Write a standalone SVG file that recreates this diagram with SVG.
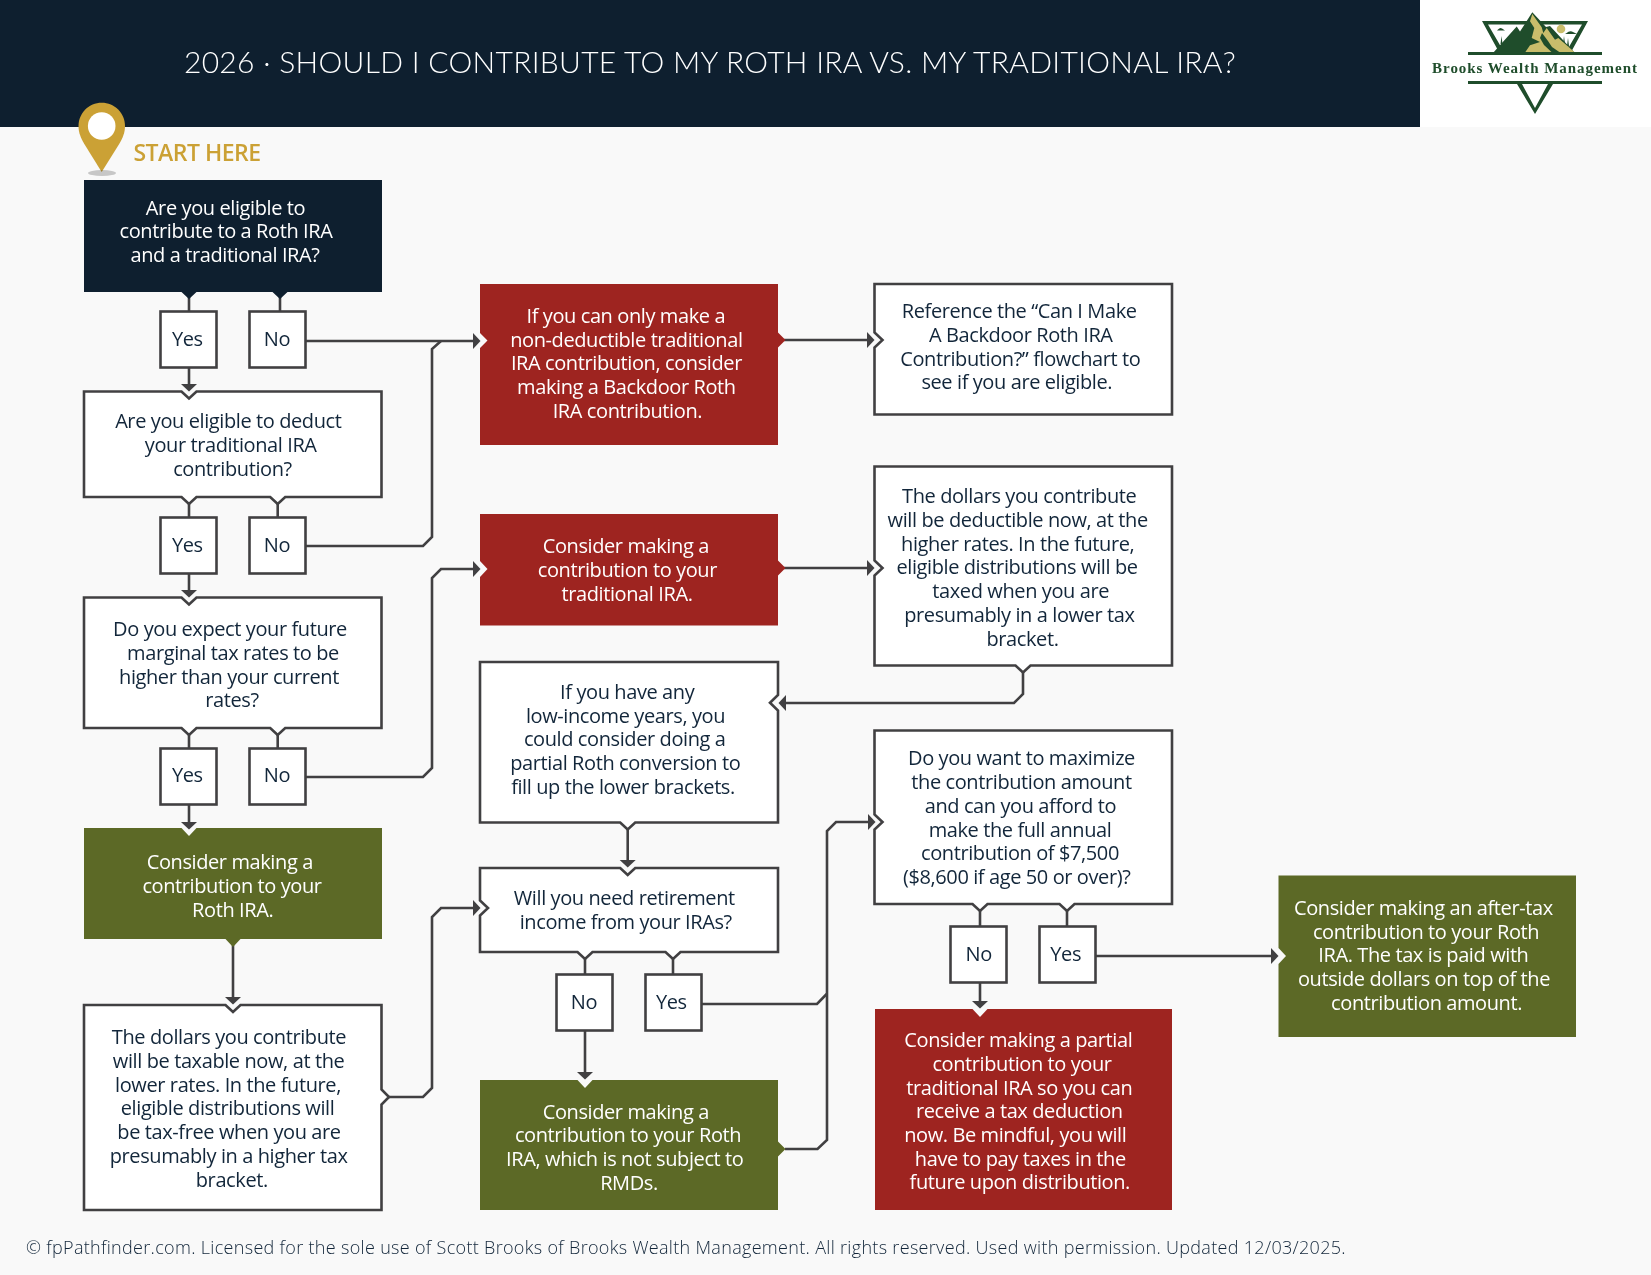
<svg xmlns="http://www.w3.org/2000/svg" width="1651" height="1275" viewBox="0 0 1651 1275">
<style>
text{font-family:"Open Sans","Noto Sans",sans-serif;font-size:20px;text-anchor:middle;fill:#12263a;letter-spacing:-0.4px}
.w{fill:#fff}
.ln{fill:#fff;stroke:#414042;stroke-width:2.6}
.nv{fill:#0e1f2f}.rd{fill:#9e2420}.gr{fill:#5c6926}
.c{fill:none;stroke:#414042;stroke-width:2.6}
.a{marker-end:url(#h)}
.lg{fill:#1f4d2b}
</style>
<defs><marker id="h" markerUnits="userSpaceOnUse" markerWidth="9" markerHeight="18" refX="0" refY="8" orient="auto" viewBox="0 0 9 16"><path d="M0 0L7.500 8L0 16Z" fill="#414042"/></marker></defs>
<rect width="1651" height="1275" fill="#f9f9f9"/>
<g id="header"><rect width="1420" height="127" fill="#0e1f2f"/><rect x="1420" width="231" height="127" fill="#fff"/>
<text x="710" y="73" style="font-family:Lato,sans-serif;font-weight:300;font-size:30px;fill:#fff;letter-spacing:0.3px">2026 · SHOULD I CONTRIBUTE TO MY ROTH IRA VS. MY TRADITIONAL IRA?</text></g>
<g id="logo">
<path class="lg" fill-rule="evenodd" d="M1482 21H1588L1570 54H1500ZM1488 24.500L1504 52H1566L1582 24.500Z"/>
<path d="M1498 29.500Q1500 27 1502 28.500L1505 30.500H1497ZM1566 33.500Q1570 30 1573 32L1577 34H1565ZM1500.500 44L1501.500 36L1502.500 44ZM1563 44L1564 36L1565 44ZM1567 46L1568 38L1569 46Z" class="lg"/>
<path class="lg" d="M1493 53L1516.700 26.500L1520 31.500L1532.300 12.300L1546 27L1550 26L1575 53Z"/>
<path d="M1532.300 14L1541.700 27.300L1543.300 33L1546.700 28L1555 39.700L1558.300 38L1575 52.500L1525 52.500L1530 45.300L1540 42L1531.700 38L1534.300 28L1530 21.300Z" fill="#c9bd6b"/>
<path class="lg" d="M1542 33L1548 41L1552 47L1560 52.500L1552 52.500L1544 45L1540 38Z"/>
<circle cx="1561" cy="29" r="4.300" fill="#c9bd6b"/>
<rect class="lg" x="1468" y="52" width="134" height="3"/><rect class="lg" x="1468" y="81" width="134" height="3"/>
<path class="lg" fill-rule="evenodd" d="M1517 84H1553L1535 114ZM1522 84L1535 108L1548 84Z"/>
<text x="1535" y="72.800" style="font-family:'Liberation Serif',serif;font-weight:700;font-size:15px;fill:#1f4d2b;letter-spacing:0.96px">Brooks Wealth Management</text>
</g>
<g id="start"><path d="M101.700 102.700C88.800 102.700 78.500 113 78.500 126C78.500 133 81 138 84 143.500L101.700 172L119.500 143.500C122.500 138 125 133 125 126C125 113 114.600 102.700 101.700 102.700Z" fill="#cba135"/><circle cx="101.700" cy="126" r="13.800" fill="#fff"/><ellipse cx="102" cy="173" rx="14" ry="3" fill="#ccc" style="mix-blend-mode:multiply"/>
<text x="197" y="161" style="font-weight:600;font-size:23px;fill:#cba135;letter-spacing:-0.5px">START HERE</text></g>
<g id="connectors">
<path class="c" d="M189 296V311M280 296V311M277.700 500V517M189 500V517M277.700 731V748M189 731V748M585 950V974M673 950V974M980 908V926M1067 908V926"/>
<path class="c a" d="M189 368V384"/>
<path class="c a" d="M189 574V590"/>
<path class="c a" d="M189 805V822"/>
<path class="c a" d="M233 945V997"/>
<path class="c a" d="M306 341H473"/>
<path class="c" d="M306 546H423L432 537V349L441 341"/>
<path class="c a" d="M306 777H423L432 768V578L441 569H473"/>
<path class="c a" d="M389 1097H423L432 1088V917L441 908H473"/>
<path class="c a" d="M784 340H867"/>
<path class="c a" d="M784 568H867"/>
<path class="c a" d="M1023 672V694L1014 703H786"/>
<path class="c a" d="M627.700 829V860"/>
<path class="c a" d="M585 1031V1072"/>
<path class="c" d="M702 1004H817L826.700 994"/>
<path class="c a" d="M785 1149H817.500L827 1140V831L836 822H868"/>
<path class="c a" d="M980 983V1001"/>
<path class="c a" d="M1096 956H1271"/>
</g>
<g id="q1"><path class="nv" d="M84 180H382V292H287.500L280 299L272.500 292H196.500L189 299L181.500 292H84Z"/>
<text class="w" x="225.500" y="215">Are you eligible to</text><text class="w" x="226" y="238">contribute to a Roth IRA</text><text class="w" x="225" y="262">and a traditional IRA?</text></g>
<g id="q1-yes"><rect class="ln" x="160.500" y="311.500" width="56" height="56"/><text x="187.300" y="346">Yes</text></g>
<g id="q1-no"><rect class="ln" x="249.500" y="311.500" width="56" height="56"/><text x="277" y="346">No</text></g>
<g id="q2"><path class="ln" d="M84 391.500H181.500L189 398.500L196.500 391.500H381.500V497H285.200L277.700 504L270.200 497H196.500L189 504L181.500 497H84Z"/>
<text x="228.300" y="428">Are you eligible to deduct</text><text x="230.700" y="452">your traditional IRA</text><text x="232.500" y="476">contribution?</text></g>
<g id="q2-yes"><rect class="ln" x="160.500" y="517.500" width="56" height="56"/><text x="187.300" y="552">Yes</text></g>
<g id="q2-no"><rect class="ln" x="249.500" y="517.500" width="56" height="56"/><text x="277" y="552">No</text></g>
<g id="q3"><path class="ln" d="M84 597.500H181.500L189 604.500L196.500 597.500H381.500V728H285.200L277.700 735L270.200 728H196.500L189 735L181.500 728H84Z"/>
<text x="230" y="636">Do you expect your future</text><text x="233" y="660">marginal tax rates to be</text><text x="229" y="684">higher than your current</text><text x="232" y="707">rates?</text></g>
<g id="q3-yes"><rect class="ln" x="160.500" y="748.500" width="56" height="56"/><text x="187.300" y="782">Yes</text></g>
<g id="q3-no"><rect class="ln" x="249.500" y="748.500" width="56" height="56"/><text x="277" y="782">No</text></g>
<g id="roth1"><path class="gr" d="M84 828H181.500L189 836L196.500 828H382V939H240.500L233 947L225.500 939H84Z"/>
<text class="w" x="229.800" y="869">Consider making a</text><text class="w" x="232" y="893">contribution to your</text><text class="w" x="232.700" y="917">Roth IRA.</text></g>
<g id="taxable"><path class="ln" d="M84 1005H225.500L233 1012L240.500 1005H381.500V1089.500L389 1097L381.500 1104.500V1210H84Z"/>
<text x="229" y="1044">The dollars you contribute</text><text x="228.600" y="1068">will be taxable now, at the</text><text x="228" y="1092">lower rates. In the future,</text><text x="227.600" y="1115">eligible distributions will</text><text x="229" y="1139">be tax-free when you are</text><text x="228.600" y="1162.500">presumably in a higher tax</text><text x="231.800" y="1186.500">bracket.</text></g>
<g id="backdoor"><path class="rd" d="M480 284H778V332.500L785.500 340L778 347.500V445H480V348L487.500 340.500L480 333Z"/>
<text class="w" x="625.800" y="322.700">If you can only make a</text><text class="w" x="626.400" y="347">non-deductible traditional</text><text class="w" x="626.400" y="370">IRA contribution, consider</text><text class="w" x="626.400" y="394.300">making a Backdoor Roth</text><text class="w" x="627.400" y="417.500">IRA contribution.</text></g>
<g id="reference"><path class="ln" d="M874.500 284H1172V414.500H874.500V347.500L882.500 340L874.500 332.500Z"/>
<text x="1019.200" y="318.300">Reference the “Can I Make</text><text x="1020.800" y="341.700">A Backdoor Roth IRA</text><text x="1020.300" y="366.300">Contribution?” flowchart to</text><text x="1016.800" y="389.300">see if you are eligible.</text></g>
<g id="traditional"><path class="rd" d="M480 514H778V560.500L785.500 568L778 575.500V625.500H480V577L487.500 569L480 561Z"/>
<text class="w" x="625.800" y="553">Consider making a</text><text class="w" x="627.400" y="576.600">contribution to your</text><text class="w" x="627" y="600.800">traditional IRA.</text></g>
<g id="deductible"><path class="ln" d="M874.500 466.500H1172V665.500H1030.500L1023 672.500L1015.500 665.500H874.500V575.500L882.500 568L874.500 560.500Z"/>
<text x="1019.200" y="503.300">The dollars you contribute</text><text x="1017.700" y="527.300">will be deductible now, at the</text><text x="1017.700" y="551.300">higher rates. In the future,</text><text x="1017" y="574.300">eligible distributions will be</text><text x="1020.700" y="598.300">taxed when you are</text><text x="1019.400" y="622">presumably in a lower tax</text><text x="1022.500" y="646">bracket.</text></g>
<g id="lowincome"><path class="ln" d="M480 662H778V695L770 702.700L778 710.500V822.500H635.200L627.700 829.500L620.200 822.500H480Z"/>
<text x="627.200" y="699">If you have any</text><text x="625.500" y="723">low-income years, you</text><text x="624.700" y="746.300">could consider doing a</text><text x="625.300" y="770">partial Roth conversion to</text><text x="623" y="794">fill up the lower brackets.</text></g>
<g id="income"><path class="ln" d="M480 868H620.200L627.700 875L635.200 868H778V952H680.500L673 959L665.500 952H592.500L585 959L577.500 952H480V915.500L488 908L480 900.500Z"/>
<text x="624.300" y="905">Will you need retirement</text><text x="625.800" y="929">income from your IRAs?</text></g>
<g id="income-no"><rect class="ln" x="556.500" y="974.500" width="56" height="56"/><text x="584" y="1009">No</text></g>
<g id="income-yes"><rect class="ln" x="645.500" y="974.500" width="56" height="56"/><text x="671.300" y="1009">Yes</text></g>
<g id="roth2"><path class="gr" d="M480 1080H577.500L585 1088L592.500 1080H778V1141.500L785.500 1149L778 1156.500V1210H480Z"/>
<text class="w" x="625.800" y="1119">Consider making a</text><text class="w" x="628" y="1142.400">contribution to your Roth</text><text class="w" x="624.800" y="1165.500">IRA, which is not subject to</text><text class="w" x="629" y="1189.800">RMDs.</text></g>
<g id="maximize"><path class="ln" d="M874.500 730.500H1172V904H1074.500L1067 911L1059.500 904H987.500L980 911L972.500 904H874.500V829.500L882.500 822L874.500 814.500Z"/>
<text x="1021.500" y="765.200">Do you want to maximize</text><text x="1021.500" y="789.400">the contribution amount</text><text x="1020.400" y="813.100">and can you afford to</text><text x="1020" y="836.800">make the full annual</text><text x="1020" y="860">contribution of $7,500</text><text x="1016.700" y="884.200">($8,600 if age 50 or over)?</text></g>
<g id="max-no"><rect class="ln" x="950.500" y="926.500" width="56" height="56"/><text x="978.700" y="961.300">No</text></g>
<g id="max-yes"><rect class="ln" x="1039.500" y="926.500" width="56" height="56"/><text x="1065.700" y="961.300">Yes</text></g>
<g id="partial"><path class="rd" d="M875 1009H972.500L980 1017L987.500 1009H1172V1210H875Z"/>
<text class="w" x="1018.300" y="1047.300">Consider making a partial</text><text class="w" x="1022" y="1071.300">contribution to your</text><text class="w" x="1019.300" y="1095.300">traditional IRA so you can</text><text class="w" x="1019.300" y="1118.300">receive a tax deduction</text><text class="w" x="1015.300" y="1142.300">now. Be mindful, you will</text><text class="w" x="1020.300" y="1166.300">have to pay taxes in the</text><text class="w" x="1019.800" y="1189.300">future upon distribution.</text></g>
<g id="aftertax"><path class="gr" d="M1278.500 875.500H1576V1037H1278.500V964L1286 956L1278.500 948Z"/>
<text class="w" x="1423.400" y="914.800">Consider making an after-tax</text><text class="w" x="1426" y="938.500">contribution to your Roth</text><text class="w" x="1423.400" y="962.200">IRA. The tax is paid with</text><text class="w" x="1424" y="986.400">outside dollars on top of the</text><text class="w" x="1426.600" y="1009.600">contribution amount.</text></g>
<g id="footer"><text x="686" y="1254" style="font-size:18px;font-weight:300;letter-spacing:0.315px">© fpPathfinder.com. Licensed for the sole use of Scott Brooks of Brooks Wealth Management. All rights reserved. Used with permission. Updated 12/03/2025.</text></g>
</svg>
